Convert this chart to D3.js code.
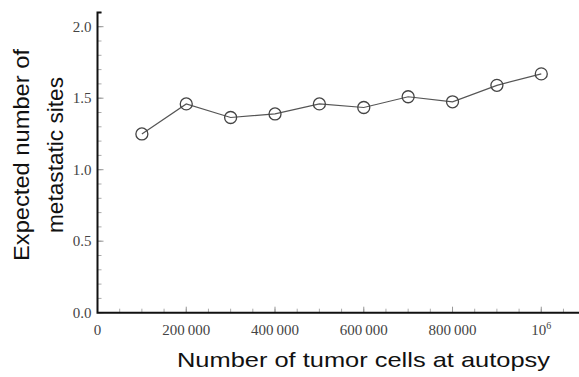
<!DOCTYPE html>
<html>
<head>
<meta charset="utf-8">
<script src="https://cdn.jsdelivr.net/npm/d3@7"></script>
<style>
  html, body { margin: 0; padding: 0; background: #fff; }
  svg { display: block; }
</style>
</head>
<body>
<svg id="chart" width="579" height="377"></svg>
<script>
// Tumor burden at autopsy vs. expected count of metastatic sites
const cells = [100000, 200000, 300000, 400000, 500000, 600000, 700000, 800000, 900000, 1000000];
const sites = [1.25, 1.46, 1.365, 1.39, 1.46, 1.435, 1.51, 1.475, 1.59, 1.67];

const xMajorTicks = [0, 200000, 400000, 600000, 800000, 1000000];
const xMinorTicks = d3.range(50000, 1080000, 50000);
const yMajorTicks = [0, 0.5, 1.0, 1.5, 2.0];
const yMinorTicks = d3.range(0, 2.11, 0.1);

const xTitle = "Number of tumor cells at autopsy";
const yTitleLines = ["Expected number of", "metastatic sites"];

const svg = d3.select("#chart");

const x = d3.scaleLinear().domain([0, 1085000]).range([97.5, 579]);
const y = d3.scaleLinear().domain([0, 2.1]).range([312.7, 12.4]);

const serif = "Liberation Serif, Times New Roman, serif";
const sans = "Liberation Sans, Arial, Helvetica, sans-serif";

// ticks point inward from both axes
const gY = svg.append("g").attr("transform", `translate(${x(0)},0)`);
gY.selectAll("line.minor").data(yMinorTicks).join("line")
  .attr("class", "minor")
  .attr("x1", 0).attr("x2", 4)
  .attr("y1", d => y(d)).attr("y2", d => y(d))
  .attr("stroke", "#aaa").attr("stroke-width", 1);
gY.selectAll("line.major").data(yMajorTicks).join("line")
  .attr("class", "major")
  .attr("x1", 0).attr("x2", 6)
  .attr("y1", d => y(d)).attr("y2", d => y(d))
  .attr("stroke", "#999").attr("stroke-width", 1);

const gX = svg.append("g").attr("transform", `translate(0,${y(0)})`);
gX.selectAll("line.minor").data(xMinorTicks).join("line")
  .attr("class", "minor")
  .attr("x1", d => x(d)).attr("x2", d => x(d))
  .attr("y1", 0).attr("y2", -4)
  .attr("stroke", "#aaa").attr("stroke-width", 1);
gX.selectAll("line.major").data(xMajorTicks).join("line")
  .attr("class", "major")
  .attr("x1", d => x(d)).attr("x2", d => x(d))
  .attr("y1", 0).attr("y2", -6)
  .attr("stroke", "#999").attr("stroke-width", 1);

// axis lines
svg.append("path")
  .attr("d", `M${x(0) + 4},${y(2.1)}H${x(0)}V${y(0)}H${x.range()[1]}`)
  .attr("fill", "none").attr("stroke", "#111").attr("stroke-width", 2);

// tick labels
svg.append("g").selectAll("text").data(yMajorTicks).join("text")
  .attr("x", x(0) - 6).attr("y", d => y(d)).attr("dy", "0.32em")
  .attr("text-anchor", "end")
  .attr("font-family", serif).attr("font-size", 15).attr("fill", "#444")
  .text(d => d3.format(".1f")(d));

const fmtX = d => d === 0 ? "0" : d3.format(",")(d).replace(/,/g, "\u2009");
const xl = svg.append("g").selectAll("text").data(xMajorTicks).join("text")
  .attr("x", d => x(d)).attr("y", y(0) + 22)
  .attr("text-anchor", "middle")
  .attr("font-family", serif).attr("font-size", 15).attr("fill", "#444");
xl.each(function(d) {
  const t = d3.select(this);
  if (d === 1000000) {
    t.append("tspan").text("10");
    t.append("tspan").attr("font-size", 10).attr("dy", -6).text("6");
  } else {
    t.text(fmtX(d));
  }
});

// data line and markers
const line = d3.line().x((d, i) => x(cells[i])).y(d => y(d));
svg.append("path").datum(sites)
  .attr("d", line)
  .attr("fill", "none").attr("stroke", "#555").attr("stroke-width", 1.2);

svg.append("g").selectAll("circle").data(sites).join("circle")
  .attr("cx", (d, i) => x(cells[i])).attr("cy", d => y(d))
  .attr("r", 6)
  .attr("fill", "none").attr("stroke", "#444").attr("stroke-width", 1.3);

// axis titles
svg.append("text")
  .attr("x", 177).attr("y", 367)
  .attr("font-family", sans).attr("font-size", 21).attr("fill", "#111")
  .attr("textLength", 373).attr("lengthAdjust", "spacingAndGlyphs")
  .text(xTitle);

const yLens = [212, 156];
const yBase = [29, 63];
yTitleLines.forEach((s, i) => {
  svg.append("text")
    .attr("transform", `translate(${yBase[i]},155) rotate(-90)`)
    .attr("text-anchor", "middle")
    .attr("font-family", sans).attr("font-size", 22).attr("fill", "#111")
    .attr("textLength", yLens[i]).attr("lengthAdjust", "spacingAndGlyphs")
    .text(s);
});
</script>
</body>
</html>
